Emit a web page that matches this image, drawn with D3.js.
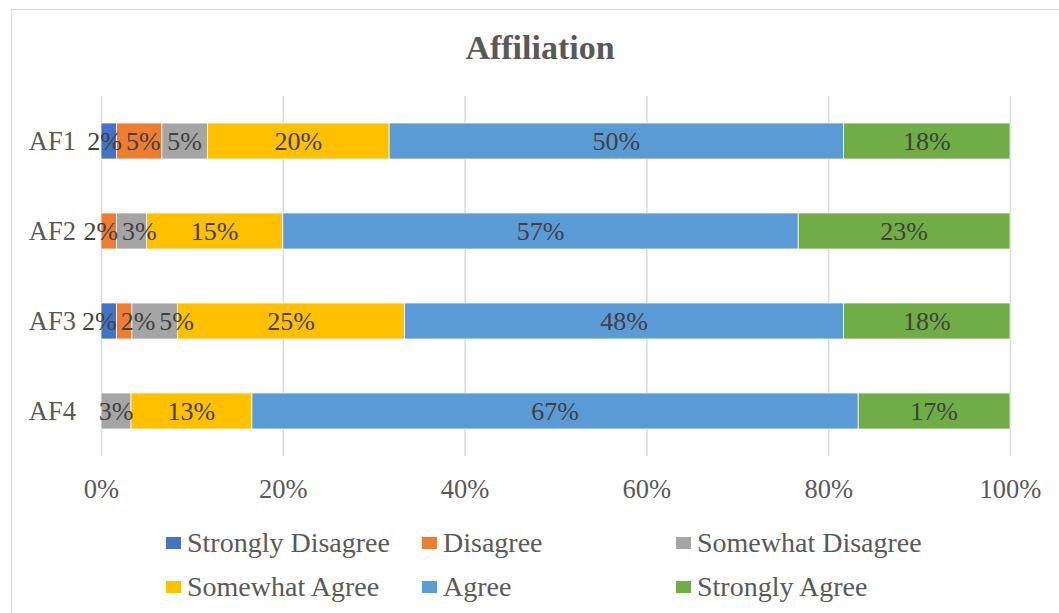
<!DOCTYPE html>
<html>
<head>
<meta charset="utf-8">
<script src="https://cdn.jsdelivr.net/npm/d3@7"></script>
<style>
  html, body { margin: 0; padding: 0; background: #fff; }
  svg { display: block; }
  text { font-family: "Liberation Serif", "Times New Roman", serif; }
</style>
</head>
<body>
<svg id="chart" width="1059" height="613"></svg>
<script>
// Response shares (%) per item, one array per answer level
const items = ["AF1", "AF2", "AF3", "AF4"];
const levels = ["Strongly Disagree", "Disagree", "Somewhat Disagree", "Somewhat Agree", "Agree", "Strongly Agree"];
const stronglyDisagree = [1.7, 0.0, 1.7, 0.0];
const disagree         = [5.0, 1.7, 1.7, 0.0];
const somewhatDisagree = [5.0, 3.3, 5.0, 3.3];
const somewhatAgree    = [20.0, 15.0, 25.0, 13.3];
const agree            = [50.0, 56.7, 48.3, 66.7];
const stronglyAgree    = [18.3, 23.3, 18.3, 16.7];
const tickValues = [0, 20, 40, 60, 80, 100];
const colors = ["#4472C4", "#ED7D31", "#A5A5A5", "#FFC000", "#5B9BD5", "#70AD47"];

const seriesValues = [stronglyDisagree, disagree, somewhatDisagree, somewhatAgree, agree, stronglyAgree];
const rows = items.map((item, i) => {
  const r = { item };
  levels.forEach((lv, j) => { r[lv] = seriesValues[j][i]; });
  return r;
});

const svg = d3.select("#chart");

// chart frame
svg.append("rect")
  .attr("x", 11.5).attr("y", 9.5)
  .attr("width", 1059).attr("height", 620)
  .attr("fill", "#fff").attr("stroke", "#D9D9D9").attr("stroke-width", 1);

// title
svg.append("text")
  .attr("x", 540).attr("y", 59)
  .attr("text-anchor", "middle")
  .attr("font-size", 34).attr("font-weight", "bold")
  .attr("fill", "#595959")
  .text("Affiliation");

const plot = { left: 101, right: 1010, top: 96, bottom: 456 };

const x = d3.scaleLinear().domain([0, 100]).range([plot.left, plot.right]);
const y = d3.scaleBand().domain(items).range([plot.top, plot.bottom]).paddingInner(0.6).paddingOuter(0.3);

// vertical gridlines
svg.append("g").selectAll("line")
  .data(tickValues).join("line")
  .attr("x1", d => x(d) + 0.5).attr("x2", d => x(d) + 0.5)
  .attr("y1", plot.top).attr("y2", plot.bottom)
  .attr("stroke", "#D9D9D9").attr("stroke-width", 1.5);

// x axis tick labels
const xAxis = d3.axisBottom(x).tickValues(tickValues).tickSize(0).tickPadding(0)
  .tickFormat(d => d + "%");
const gx = svg.append("g").attr("transform", `translate(0,${plot.bottom + 42})`).call(xAxis);
gx.select(".domain").remove();
gx.selectAll("text")
  .attr("font-family", "Liberation Serif, Times New Roman, serif")
  .attr("font-size", 26.5).attr("fill", "#595959").attr("dy", 0);

// y axis category labels
const yAxis = d3.axisLeft(y).tickSize(0).tickPadding(25);
const gy = svg.append("g").attr("transform", `translate(${plot.left},0)`).call(yAxis);
gy.select(".domain").remove();
gy.selectAll("text")
  .attr("font-family", "Liberation Serif, Times New Roman, serif")
  .attr("font-size", 26.5).attr("fill", "#595959").attr("dy", "0.34em");

// stacked segments
const stacked = d3.stack().keys(levels)(rows);

const layers = svg.append("g").selectAll("g")
  .data(stacked).join("g")
  .attr("fill", (d, i) => colors[i]);

layers.selectAll("rect")
  .data(d => d.filter(s => s[1] - s[0] > 0))
  .join("rect")
  .attr("x", s => x(s[0]))
  .attr("width", s => x(s[1]) - x(s[0]))
  .attr("y", s => y(s.data.item))
  .attr("height", y.bandwidth())
  .attr("stroke", "#fff").attr("stroke-width", 0.75);

// value labels, centred on their segment, then spread apart where they collide
const fmt = v => d3.format(".0f")(v) + "%";
const labelG = svg.append("g");
const gap = 4;
const minLeft = plot.left - 19; // keep clear of the category labels
items.forEach((item, i) => {
  const labels = [];
  stacked.forEach(layer => {
    const s = layer[i];
    if (s[1] - s[0] <= 0) return;
    const t = labelG.append("text")
      .attr("y", y(item) + y.bandwidth() / 2)
      .attr("dy", "0.35em")
      .attr("text-anchor", "middle")
      .attr("font-size", 26)
      .attr("fill", "#404040")
      .text(fmt(s.data[layer.key]));
    labels.push({ t, c: (x(s[0]) + x(s[1])) / 2, w: t.node().getComputedTextLength() });
  });
  for (let iter = 0; iter < 60; iter++) {
    for (let k = 0; k < labels.length - 1; k++) {
      const a = labels[k], b = labels[k + 1];
      const overlap = (a.c + a.w / 2 + gap) - (b.c - b.w / 2);
      if (overlap > 0) { a.c -= overlap / 2; b.c += overlap / 2; }
    }
  }
  // forward sweep: respect the left bound and keep neighbours apart
  let prevRight = minLeft - gap;
  labels.forEach(l => {
    l.c = Math.max(l.c, prevRight + gap + l.w / 2);
    prevRight = l.c + l.w / 2;
  });
  labels.forEach(l => l.t.attr("x", l.c));
});

// legend
const legendPos = [
  { x: 166, y: 543 }, { x: 422, y: 543 }, { x: 676, y: 543 },
  { x: 166, y: 587 }, { x: 422, y: 587 }, { x: 676, y: 587 }
];
const lg = svg.append("g").selectAll("g")
  .data(levels).join("g")
  .attr("transform", (d, i) => `translate(${legendPos[i].x},${legendPos[i].y})`);
lg.append("rect")
  .attr("x", 0).attr("y", -6).attr("width", 15).attr("height", 12)
  .attr("fill", (d, i) => colors[i]);
lg.append("text")
  .attr("x", 21).attr("y", 0).attr("dy", "0.33em")
  .attr("font-size", 28).attr("fill", "#595959")
  .text(d => d);
</script>
</body>
</html>
